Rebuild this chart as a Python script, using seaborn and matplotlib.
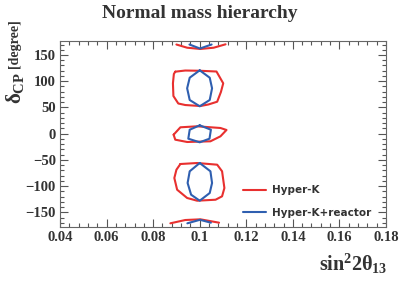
import numpy as np
import pandas as pd
import seaborn as sns
import matplotlib.pyplot as plt
from matplotlib.ticker import MultipleLocator

# contour points: (sin^2 2theta13, delta_CP)
hk_upper_x = [0.0895, 0.0938, 0.1003, 0.1072, 0.1101, 0.1091, 0.1075, 0.1037, 0.1003, 0.0938, 0.0908, 0.0887, 0.0885, 0.0889, 0.0895]
hk_upper_y = [118.2, 120.4, 119.9, 118.5, 96.0, 79.4, 60.9, 55.6, 52.7, 54.6, 57.5, 71.8, 96.0, 113.8, 118.2]
hk_mid_x = [0.0888, 0.0917, 0.0989, 0.1089, 0.1115, 0.1089, 0.1046, 0.0946, 0.0895, 0.0888]
hk_mid_y = [-2.0, 12.1, 14.0, 10.8, 7.0, -5.1, -14.6, -15.9, -11.5, -2.0]
hk_lower_x = [0.0917, 0.0989, 0.1075, 0.1096, 0.1106, 0.1096, 0.1068, 0.0989, 0.0946, 0.0903, 0.0891, 0.0900, 0.0917]
hk_lower_y = [-57.9, -56.0, -59.2, -71.8, -103.7, -119.5, -126.0, -127.9, -122.7, -106.9, -84.6, -68.8, -57.9]
hk_top_x = [0.0900, 0.0946, 0.1003, 0.1060, 0.1111]
hk_top_y = [170.0, 163.9, 161.5, 163.9, 170.4]
hk_bot_x = [0.0874, 0.0938, 0.1003, 0.1083]
hk_bot_y = [-171.0, -164.7, -163.4, -169.8]

hkr_upper_x = [0.1000, 0.1043, 0.1053, 0.1043, 0.1000, 0.0957, 0.0946, 0.0957, 0.1000]
hkr_upper_y = [120.8, 106.7, 86.5, 64.2, 52.2, 64.2, 86.5, 106.7, 120.8]
hkr_mid_x = [0.1000, 0.1048, 0.1042, 0.1000, 0.0951, 0.0957, 0.1000]
hkr_mid_y = [15.9, 7.5, -9.6, -16.5, -9.6, 7.5, 15.9]
hkr_lower_x = [0.1000, 0.1046, 0.1053, 0.1043, 0.1000, 0.0963, 0.0948, 0.0957, 0.1000]
hkr_lower_y = [-56.0, -71.8, -94.1, -113.2, -127.9, -116.4, -94.1, -71.8, -56.0]
hkr_top_x = [0.0956, 0.1001, 0.1051]
hkr_top_y = [170.0, 162.4, 170.0]
hkr_bot_x = [0.0947, 0.1001, 0.1048]
hkr_bot_y = [-171.0, -164.3, -169.8]

series = ["Hyper-K", "Hyper-K+reactor"]
colors = {"Hyper-K": "#e8302f", "Hyper-K+reactor": "#2f5fb0"}
xtick_labels = ["0.04", "0.06", "0.08", "0.1", "0.12", "0.14", "0.16", "0.18"]

pieces = [
    ("Hyper-K", "up", hk_upper_x, hk_upper_y),
    ("Hyper-K", "mid", hk_mid_x, hk_mid_y),
    ("Hyper-K", "low", hk_lower_x, hk_lower_y),
    ("Hyper-K", "top", hk_top_x, hk_top_y),
    ("Hyper-K", "bot", hk_bot_x, hk_bot_y),
    ("Hyper-K+reactor", "up", hkr_upper_x, hkr_upper_y),
    ("Hyper-K+reactor", "mid", hkr_mid_x, hkr_mid_y),
    ("Hyper-K+reactor", "low", hkr_lower_x, hkr_lower_y),
    ("Hyper-K+reactor", "top", hkr_top_x, hkr_top_y),
    ("Hyper-K+reactor", "bot", hkr_bot_x, hkr_bot_y),
]
rows = []
for name, isl, xs, ys in pieces:
    for a, b in zip(xs, ys):
        rows.append({"s": a, "d": b, "exp": name, "island": name + isl})
df = pd.DataFrame(rows)

sns.set_style("ticks")
plt.rcParams["font.family"] = ["Liberation Serif", "DejaVu Serif"]
plt.rcParams["mathtext.fontset"] = "custom"
plt.rcParams["mathtext.rm"] = "Liberation Serif:bold"
plt.rcParams["mathtext.it"] = "Liberation Serif:bold"
plt.rcParams["mathtext.bf"] = "Liberation Serif:bold"

fig = plt.figure(figsize=(3.99, 2.82), dpi=100)
ax = fig.add_axes([60 / 399, 1 - 227.3 / 282, 326 / 399, 186.3 / 282])

sns.lineplot(data=df, x="s", y="d", hue="exp", units="island", estimator=None,
             sort=False, palette=colors, hue_order=series, linewidth=1.5, ax=ax)

ax.set_xlim(0.04, 0.18)
ax.set_ylim(-178.6, 176.7)
ax.xaxis.set_minor_locator(MultipleLocator(0.004))
ax.yaxis.set_major_locator(MultipleLocator(50))
ax.yaxis.set_minor_locator(MultipleLocator(10))
ax.set_xticks(np.arange(0.04, 0.1801, 0.02))
ax.set_xticklabels(xtick_labels)
ax.tick_params(which="both", direction="in", top=True, right=True, colors="#555555",
               labelcolor="#333333", labelsize=10.5, width=0.8)
ax.tick_params(which="major", length=6, pad=3)
ax.tick_params(which="minor", length=3)
for lab in ax.get_xticklabels() + ax.get_yticklabels():
    lab.set_fontweight("bold")
for sp in ax.spines.values():
    sp.set_color("#666666")
    sp.set_linewidth(0.8)
ax.set_xlabel("")
ax.set_ylabel("")

handles, labels = ax.get_legend_handles_labels()
ax.legend(handles, labels, loc="lower right", bbox_to_anchor=(0.985, 0.0), frameon=False,
          prop={"family": "DejaVu Sans", "weight": "bold", "size": 7.5}, labelcolor="#333333",
          handlelength=2.2, labelspacing=1.2, handletextpad=0.6)

fig.text(0.5, 1 - 13 / 282, "Normal mass hierarchy", ha="center", va="center",
         fontsize=14, fontweight="bold", color="#333333")
fig.text(387 / 399, 1 - 276 / 282, r"$\mathrm{sin}^{2}2\theta_{13}$", ha="right", va="bottom",
         fontsize=14.5, color="#333333")
fig.text(15 / 399, 1 - 104 / 282, r"$\delta_{\mathrm{CP}}$", rotation=90, ha="center", va="bottom",
         fontsize=15, color="#333333")
fig.text(14 / 399, 1 - 68 / 282, "[degree]", rotation=90, ha="center", va="bottom",
         fontsize=10, fontweight="bold", color="#333333")

fig.savefig("out.png", dpi=100)
